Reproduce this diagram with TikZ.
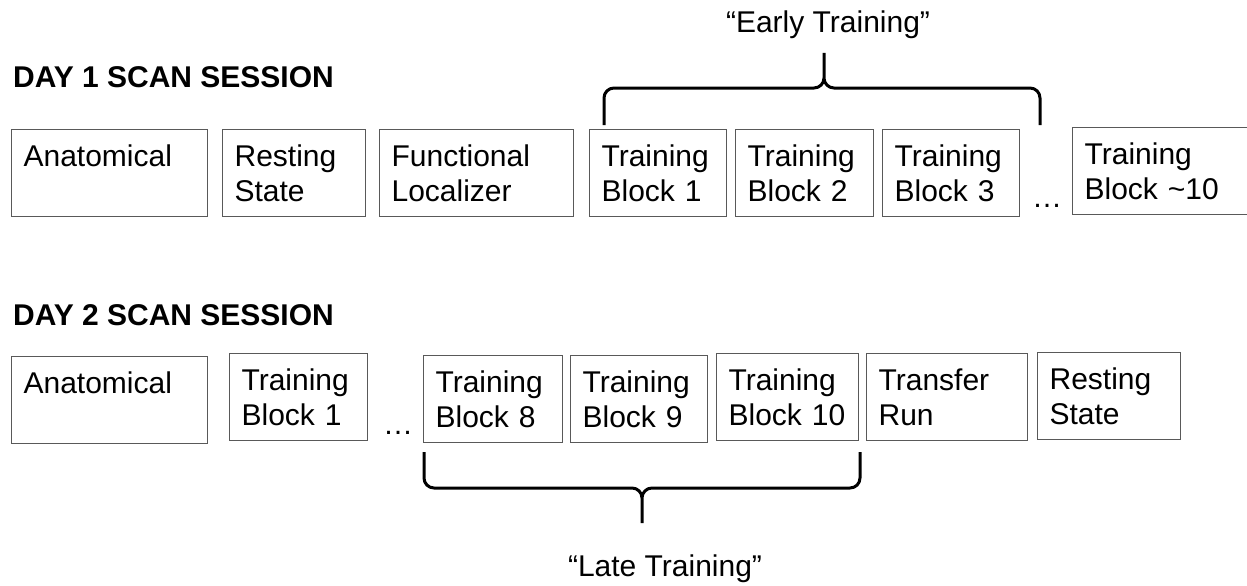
\documentclass[tikz,border=0pt]{standalone}
\usepackage{fontspec}
\setmainfont{Liberation Sans}
\definecolor{boxline}{gray}{0.35}
\tikzset{
  blk/.style={draw=boxline, line width=1.2pt, anchor=north west, align=left,
              text width=#1, inner xsep=12pt, inner ysep=0pt, minimum height=87pt},
  head/.style={anchor=base west, inner sep=0pt, font=\fontsize{30}{35}\selectfont\bfseries},
  brace/.style={line width=3pt, rounded corners=10pt}
}

\begin{document}
\begin{tikzpicture}[x=1pt, y=-1pt, font=\fontsize{30}{35}\selectfont]
  \useasboundingbox (0,0) rectangle (1247,586);

  % first day
  \node[head] (day1) at (13,88) {DAY 1 SCAN SESSION};
  \node[blk=172pt] (anat1) at (11,129) {Anatomical\\\phantom{B}};
  \node[blk=119pt] (rest1) at (222,129) {Resting\\State};
  \node[blk=170pt] (func) at (379,129) {Functional\\Localizer};
  \node[blk=113pt] (tr1) at (589,129) {Training\\Block 1};
  \node[blk=114pt] (tr2) at (735,129) {Training\\Block 2};
  \node[blk=113pt] (tr3) at (882,129) {Training\\Block 3};
  \node[anchor=base] (gap1) at (1047,207) {…};
  \node[blk=176pt] (trlast) at (1072,127) {Training\\Block \textasciitilde10};

  \coordinate (e1) at (604,125);
  \coordinate (e2) at (1040,125);
  \coordinate (etip) at (824,53);
  \draw[brace] (e1) |- (etip |- 0,88) -- (etip) (e2) |- (etip |- 0,88) -- (etip);
  \node[anchor=base] (early) at (828,33) {“Early Training”};

  % second day
  \node[head] (day2) at (13,325) {DAY 2 SCAN SESSION};
  \node[blk=172pt] (anat2) at (11,356) {Anatomical\\\phantom{B}};
  \node[blk=114pt] (trb1) at (229,353) {Training\\Block 1};
  \node[anchor=base] (gap2) at (398,434) {…};
  \node[blk=115pt] (tr8) at (423,355) {Training\\Block 8};
  \node[blk=113pt] (tr9) at (570,355) {Training\\Block 9};
  \node[blk=118pt] (tr10) at (716,353) {Training\\Block 10};
  \node[blk=137pt] (trans) at (866,353) {Transfer\\Run};
  \node[blk=119pt] (rest2) at (1037,352) {Resting\\State};

  \coordinate (l1) at (424,452);
  \coordinate (l2) at (860,452);
  \coordinate (ltip) at (642,523);
  \draw[brace] (l1) |- (ltip |- 0,488) -- (ltip) (l2) |- (ltip |- 0,488) -- (ltip);
  \node[anchor=base] (late) at (665,576) {“Late Training”};
\end{tikzpicture}
\end{document}
